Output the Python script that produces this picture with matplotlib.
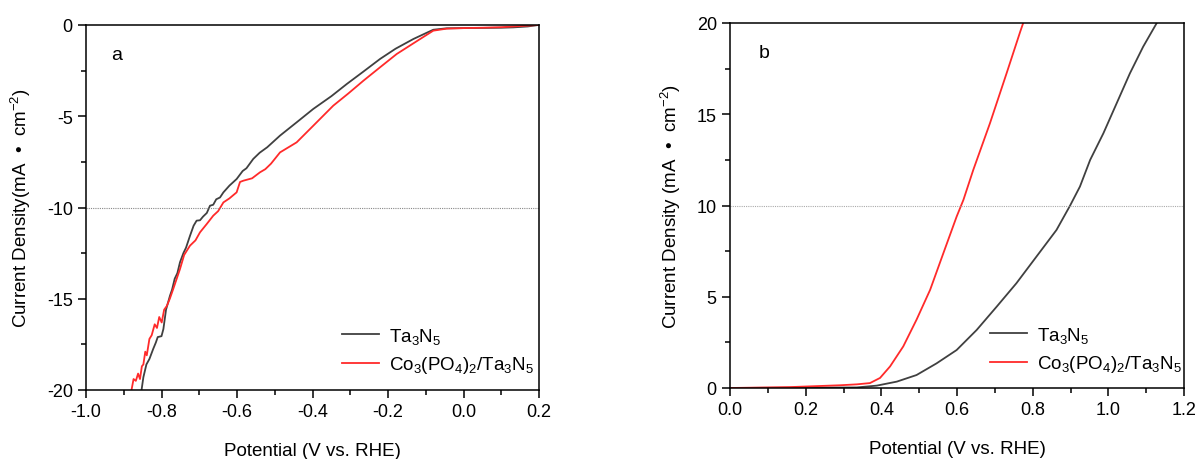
import matplotlib
matplotlib.use("Agg")
import matplotlib.pyplot as plt
from matplotlib.ticker import MultipleLocator

plt.rcParams['font.family'] = ['Liberation Sans', 'DejaVu Sans']
plt.rcParams['mathtext.fontset'] = 'custom'
plt.rcParams['mathtext.rm'] = 'Liberation Sans'
plt.rcParams['mathtext.it'] = 'Liberation Sans'
plt.rcParams['axes.unicode_minus'] = False

# Panel a (HER)
her_ta3n5_x = [-0.8525, -0.848, -0.84, -0.832, -0.822, -0.815, -0.81, -0.80, -0.795, -0.788,
               -0.7775, -0.772, -0.765, -0.758, -0.751, -0.742, -0.735, -0.7245, -0.715,
               -0.707, -0.698, -0.69, -0.68, -0.6715, -0.663, -0.655, -0.645, -0.636, -0.62,
               -0.601, -0.585, -0.575, -0.557, -0.54, -0.52, -0.486, -0.44,
               -0.398, -0.35, -0.309, -0.265, -0.221, -0.18, -0.133, -0.10, -0.080, -0.0445,
               0.0, 0.05, 0.10, 0.132, 0.17, 0.198]
her_ta3n5_y = [-19.95, -19.3, -18.6, -18.3, -17.75, -17.4, -17.1, -17.05, -16.66, -15.6,
               -14.83, -14.5, -13.9, -13.6, -13.0, -12.5, -12.2, -11.55, -11.0,
               -10.72, -10.7, -10.5, -10.3, -9.9, -9.85, -9.55, -9.45, -9.17, -8.8,
               -8.44, -8.0, -7.85, -7.34, -7.0, -6.7, -6.06, -5.3,
               -4.60, -3.9, -3.23, -2.55, -1.86, -1.3, -0.77, -0.45, -0.26, -0.18,
               -0.17, -0.16, -0.15, -0.13, -0.08, 0.0]
her_co_x = [-0.879, -0.874, -0.868, -0.862, -0.857, -0.852, -0.848, -0.843, -0.839, -0.832,
            -0.826, -0.818, -0.812, -0.806, -0.7995, -0.793, -0.786, -0.778, -0.769,
            -0.751, -0.74, -0.7245, -0.71, -0.698, -0.68, -0.663, -0.65, -0.636, -0.62,
            -0.601, -0.592, -0.583, -0.56, -0.539, -0.525, -0.51,
            -0.486, -0.442, -0.398, -0.345, -0.305, -0.265, -0.22, -0.177, -0.115, -0.080,
            -0.0445, 0.0, 0.05, 0.10, 0.15, 0.198]
her_co_y = [-19.95, -19.4, -19.5, -19.1, -19.4, -18.7, -18.6, -17.9, -18.1, -17.2,
            -17.0, -16.4, -16.6, -16.0, -16.3, -15.6, -15.4, -15.0, -14.47,
            -13.37, -12.6, -12.09, -11.8, -11.36, -10.9, -10.45, -10.2, -9.72, -9.5,
            -9.17, -8.6, -8.53, -8.4, -8.07, -7.9, -7.6,
            -6.98, -6.43, -5.52, -4.42, -3.75, -3.05, -2.3, -1.59, -0.77, -0.31,
            -0.2, -0.17, -0.15, -0.12, -0.06, 0.0]

# Panel b (OER)
oer_ta3n5_x = [0.0, 0.335, 0.388, 0.441, 0.493, 0.546, 0.599, 0.652, 0.705, 0.757,
               0.810, 0.863, 0.899, 0.925, 0.952, 0.987, 1.022, 1.057, 1.092, 1.128]
oer_ta3n5_y = [0.0, 0.03, 0.13, 0.35, 0.71, 1.35, 2.08, 3.18, 4.46, 5.74,
               7.2, 8.66, 10.0, 11.04, 12.5, 13.96, 15.6, 17.24, 18.7, 20.0]
oer_co_x = [0.0, 0.159, 0.291, 0.335, 0.370, 0.3965, 0.423, 0.458, 0.493, 0.529,
            0.564, 0.599, 0.617, 0.643, 0.687, 0.731, 0.767, 0.775]
oer_co_y = [0.0, 0.05, 0.15, 0.2, 0.27, 0.55, 1.18, 2.28, 3.74, 5.38,
            7.39, 9.39, 10.31, 11.95, 14.5, 17.24, 19.52, 20.0]

labels = [r'Ta$_3$N$_5$', r'Co$_3$(PO$_4$)$_2$/Ta$_3$N$_5$']
c_black = '#404040'
c_red = '#ff2a2a'

fig = plt.figure(figsize=(11.98, 4.6), dpi=100)
axa = fig.add_axes([86/1198, 1-391/460, (539-86)/1198, (391-26)/460])
axb = fig.add_axes([730/1198, 1-389/460, (1184-730)/1198, (389-24)/460])

def style(ax):
    for s in ax.spines.values():
        s.set_linewidth(1.1)
        s.set_color('black')
    ax.tick_params(which='major', direction='out', length=6, width=1.1, labelsize=13,
                   top=False, right=False)
    ax.tick_params(which='minor', direction='out', length=3.5, width=1.1,
                   top=False, right=False)

axa.plot(her_ta3n5_x, her_ta3n5_y, color=c_black, lw=1.3, label=labels[0])
axa.plot(her_co_x, her_co_y, color=c_red, lw=1.3, label=labels[1])
axa.axhline(-10, color='#888888', lw=0.8, ls=(0, (1, 1)))
axa.set_xlim(-1.0, 0.2)
axa.set_ylim(-20, 0)
axa.xaxis.set_major_locator(MultipleLocator(0.2))
axa.xaxis.set_minor_locator(MultipleLocator(0.1))
axa.yaxis.set_major_locator(MultipleLocator(5))
axa.yaxis.set_minor_locator(MultipleLocator(2.5))
style(axa)
axa.set_xlabel('Potential (V vs. RHE)', fontsize=13.5, labelpad=16)
axa.set_ylabel(r'Current Density(mA  •  cm$^{-2}$)', fontsize=13.5, labelpad=10)
axa.text(0.055, 0.918, 'a', transform=axa.transAxes, fontsize=14, ha='left', va='center')
axa.legend(loc='lower right', bbox_to_anchor=(1.029, -0.008), frameon=False, fontsize=13.5,
           handlelength=1.95, handletextpad=0.55, labelspacing=0.45, borderaxespad=0.55)

axb.plot(oer_ta3n5_x, oer_ta3n5_y, color=c_black, lw=1.3, label=labels[0])
axb.plot(oer_co_x, oer_co_y, color=c_red, lw=1.3, label=labels[1])
axb.axhline(10, color='#aaaaaa', lw=0.8, ls=(0, (1, 1)))
axb.set_xlim(0.0, 1.2)
axb.set_ylim(0, 20)
axb.xaxis.set_major_locator(MultipleLocator(0.2))
axb.xaxis.set_minor_locator(MultipleLocator(0.1))
axb.yaxis.set_major_locator(MultipleLocator(5))
axb.yaxis.set_minor_locator(MultipleLocator(2.5))
style(axb)
axb.set_xlabel('Potential (V vs. RHE)', fontsize=13.5, labelpad=16)
axb.set_ylabel(r'Current Density (mA  •  cm$^{-2}$)', fontsize=13.5, labelpad=10)
axb.text(0.064, 0.92, 'b', transform=axb.transAxes, fontsize=14, ha='left', va='center')
axb.legend(loc='lower right', bbox_to_anchor=(1.035, -0.011), frameon=False, fontsize=13.5,
           handlelength=1.95, handletextpad=0.55, labelspacing=0.45, borderaxespad=0.55)

fig.savefig('out.png', dpi=100)
